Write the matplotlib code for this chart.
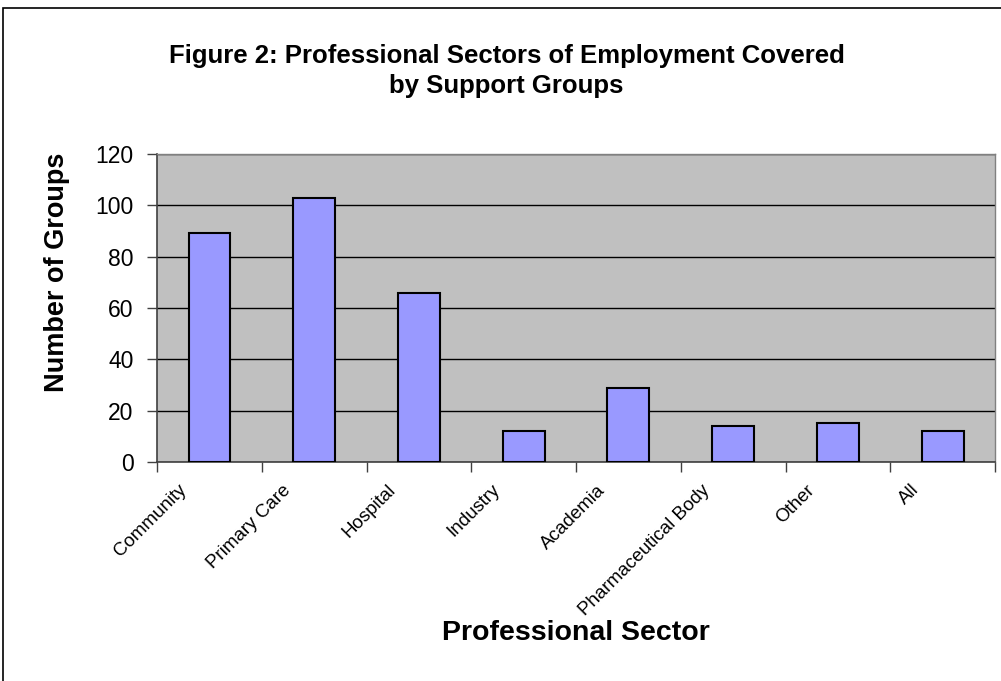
import matplotlib
matplotlib.use("Agg")
import matplotlib.pyplot as plt
import matplotlib.transforms as mtransforms
import numpy as np

sectors = ["Community", "Primary Care", "Hospital", "Industry", "Academia",
           "Pharmaceutical Body", "Other", "All"]
groups = [89, 103, 66, 12, 29, 14, 15, 12]

plt.rcParams['font.family'] = ['Liberation Sans', 'DejaVu Sans']

fig = plt.figure(figsize=(10.01, 6.81), dpi=100)
ax = fig.add_axes([0.157, 0.3216, 0.837, 0.4524])

x = np.arange(len(sectors))
ax.bar(x, groups, width=0.4, color='#9999ff', edgecolor='black', linewidth=1.5, zorder=3)

ax.set_facecolor('#c0c0c0')
ax.set_xlim(-0.5, len(sectors) - 0.5)
ax.set_ylim(0, 120)
ax.set_yticks(range(0, 121, 20))
ax.yaxis.grid(True, color='black', linewidth=1, zorder=1)
ax.set_axisbelow(True)

# category boundary ticks, labels at centres
ax.set_xticks(np.arange(-0.5, len(sectors), 1))
ax.set_xticklabels([])
ax.set_xticks(x, minor=True)
ax.set_xticklabels(sectors, minor=True, rotation=45, ha='right', va='top',
                   rotation_mode='anchor', fontsize=13.5)
ax.tick_params(axis='x', which='minor', length=0, pad=14)
ax.tick_params(axis='x', which='major', length=7, direction='out', width=1, color='#404040')
ax.tick_params(axis='y', length=7, width=1, color='#404040', labelsize=16.5, pad=10)

# shift the rotated labels a little left so they end before the bar centre
offset = mtransforms.ScaledTranslation(-32 / 100, 0, fig.dpi_scale_trans)
for lab in ax.get_xticklabels(minor=True):
    lab.set_transform(lab.get_transform() + offset)

for s in ['left', 'bottom']:
    ax.spines[s].set_color('#404040')
    ax.spines[s].set_linewidth(1.2)
for s in ['top', 'right']:
    ax.spines[s].set_color('#808080')
    ax.spines[s].set_linewidth(1)

ax.set_ylabel('Number of Groups', fontsize=19.5, fontweight='bold')
ax.yaxis.set_label_coords(-0.104, 0.617)
fig.text(0.575, 0.07, 'Professional Sector', fontsize=20.5, fontweight='bold', ha='center', va='center')
fig.text(0.506, 0.896, 'Figure 2: Professional Sectors of Employment Covered\nby Support Groups',
         fontsize=18.5, fontweight='bold', ha='center', va='center', linespacing=1.3)

# outer border of the chart
fig.patches.append(plt.Rectangle((0.003, -0.01), 1.2, 0.998, transform=fig.transFigure,
                                 fill=False, edgecolor='black', linewidth=1.2))

fig.savefig('out.png', dpi=100)
